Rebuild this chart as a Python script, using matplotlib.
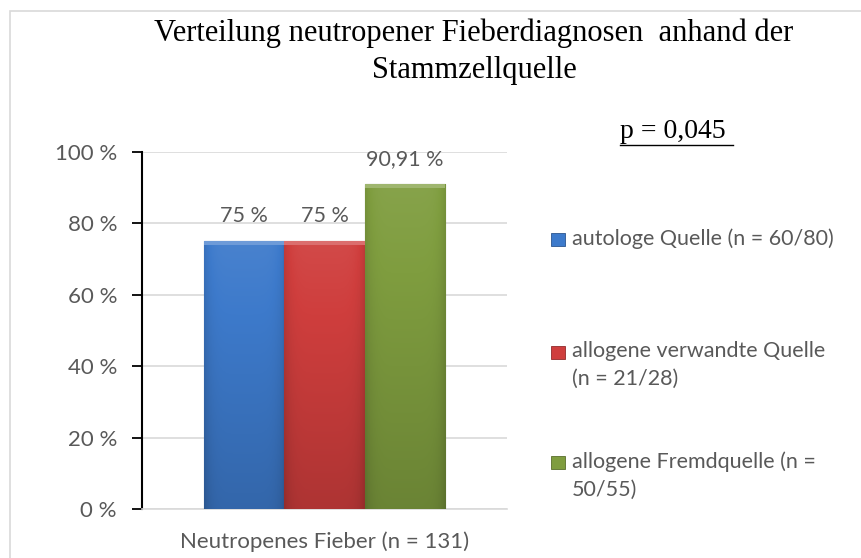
import numpy as np
import matplotlib.pyplot as plt
from matplotlib.patches import Rectangle
from matplotlib.colors import to_rgb

category = "Neutropenes Fieber (n = 131)"
series = ["autologe Quelle (n = 60/80)",
          "allogene verwandte Quelle\n(n = 21/28)",
          "allogene Fremdquelle (n =\n50/55)"]
values = [75, 75, 90.91]
value_labels = ["75 %", "75 %", "90,91 %"]
colors = ["#3d7acb", "#cf3e3d", "#7f9d3f"]
yticks = [0, 20, 40, 60, 80, 100]
title = "Verteilung neutropener Fieberdiagnosen  anhand der\nStammzellquelle"
p_text = "p = 0,045"

grey = "#595959"
sans = ["Lato", "DejaVu Sans"]

fig = plt.figure(figsize=(8.62, 5.58), dpi=100)
fig.patches.append(Rectangle((10 / 862, -0.1), 1.1, 1 - 11 / 558 + 0.1,
                             transform=fig.transFigure, fill=False,
                             edgecolor="#d9d9d9", linewidth=1.2))

ax = fig.add_axes([142 / 862, 1 - 509 / 558, 365 / 862, 357 / 558])
ax.set_xlim(-0.5, 0.5)
ax.set_ylim(0, 100)

width = 0.221
xs = (np.arange(len(values)) - 1) * width


def shade(c, f):
    r = np.array(to_rgb(c))
    if f > 0:
        return r + (1 - r) * f
    return r * (1 + f)


for x, v, c, lab in zip(xs, values, colors, value_labels):
    bar = ax.bar(x, v, width=width, color=c, edgecolor=shade(c, -0.35),
                 linewidth=0.8, zorder=3)[0]
    # simple bevel-like gradient inside the bar
    h = np.linspace(0, 1, 50)[None, :]
    vert = np.linspace(0.06, -0.16, 200)[:, None]
    edge = -0.12 * (np.abs(h - 0.5) * 2) ** 6
    f = vert + edge
    img = np.zeros((200, 50, 3))
    base = np.array(to_rgb(c))
    for i in range(3):
        img[:, :, i] = np.where(f > 0, base[i] + (1 - base[i]) * f, base[i] * (1 + f))
    im = ax.imshow(img, extent=[x - width / 2, x + width / 2, 0, v],
                   aspect="auto", origin="upper", zorder=3)
    im.set_clip_path(bar)
    ax.add_patch(Rectangle((x - width / 2, v - 1.0), width, 1.0,
                           facecolor=shade(c, 0.25), edgecolor="none", zorder=4))
    ax.text(x, v + 7, lab, ha="center", va="center", fontsize=15.5,
            color=grey, family=sans)

ax.set_yticks(yticks)
ax.set_yticklabels([f"{t} %" for t in yticks], fontsize=16, color=grey,
                   family=sans)
ax.set_xticks([0])
ax.set_xticklabels([category], fontsize=16, color=grey, family=sans)
ax.tick_params(axis="x", length=0, pad=16)
ax.tick_params(axis="y", length=7, width=1.3, color="black", direction="out", pad=11)
ax.grid(axis="y", color="#d9d9d9", linewidth=1.2, zorder=0)
ax.set_axisbelow(True)
for s in ["top", "right"]:
    ax.spines[s].set_visible(False)
ax.spines["bottom"].set_color("#d9d9d9")
ax.spines["bottom"].set_linewidth(1.2)
ax.spines["left"].set_color("black")
ax.spines["left"].set_linewidth(1.5)

fig.text(474 / 862, 1 - 19 / 558, title, ha="center", va="top", fontsize=22,
         family="Liberation Serif", linespacing=1.35)
fig.text(620 / 862, 1 - 132 / 558, p_text, ha="left", va="center",
         fontsize=20, family="Liberation Serif")
fig.add_artist(plt.Line2D([620 / 862, 733 / 862], [1 - 145 / 558] * 2,
                          color="black", linewidth=1))

leg_y = [240, 353, 463]
for y, lab, c in zip(leg_y, series, colors):
    fig.patches.append(Rectangle((551 / 862, 1 - (y + 6) / 558), 14 / 862, 13 / 558,
                                 transform=fig.transFigure, facecolor=c,
                                 edgecolor=shade(c, -0.3), linewidth=0.6))
    fig.text(572 / 862, 1 - (y - 12) / 558, lab, ha="left", va="top",
             fontsize=15.5, color=grey, family=sans, linespacing=1.5)

fig.savefig("out.png", dpi=100)
